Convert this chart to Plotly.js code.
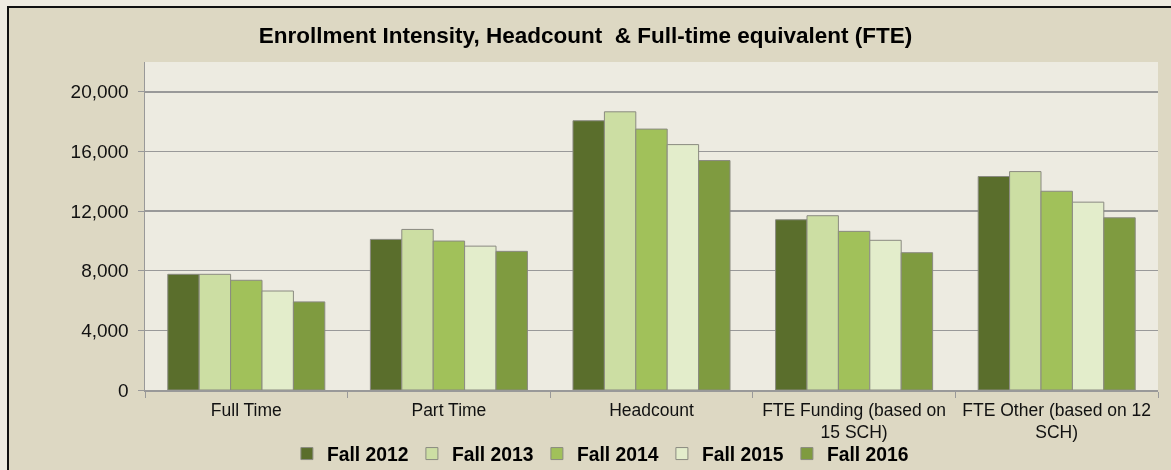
<!DOCTYPE html>
<html>
<head>
<meta charset="utf-8">
<script src="https://cdn.plot.ly/plotly-3.0.1.min.js"></script>
<style>
  html, body { margin: 0; padding: 0; background: #DDD8C3; overflow: hidden; }
  .strip { position: fixed; background: #EEEBE1; }
  .bline { position: fixed; background: #111; }
  #chart { position: absolute; left: 0; top: 0; width: 1171px; height: 470px; }
</style>
</head>
<body>
<div class="strip" style="left:0;top:0;width:3000px;height:6px"></div>
<div class="strip" style="left:0;top:0;width:7px;height:3000px"></div>
<div class="bline" style="left:7px;top:6px;width:3000px;height:2px"></div>
<div class="bline" style="left:7px;top:6px;width:2px;height:3000px"></div>
<div id="chart"></div>
<script>
const categories = ["Full Time", "Part Time", "Headcount", "FTE Funding (based on<br>15 SCH)", "FTE Other (based on 12<br>SCH)"];
const seriesNames = ["Fall 2012", "Fall 2013", "Fall 2014", "Fall 2015", "Fall 2016"];
const fall2012 = [7760, 10100, 18060, 11420, 14320];
const fall2013 = [7760, 10770, 18660, 11690, 14650];
const fall2014 = [7360, 9990, 17500, 10640, 13330];
const fall2015 = [6640, 9650, 16460, 10040, 12600];
const fall2016 = [5910, 9300, 15390, 9210, 11550];
const seriesColors = ["#5A6E2C", "#CCDEA3", "#A1C15A", "#E3EDCB", "#7F9B40"];

const allSeries = [fall2012, fall2013, fall2014, fall2015, fall2016];
const traces = allSeries.map((vals, i) => ({
  type: "bar",
  name: "<b>" + seriesNames[i] + "</b>",
  x: categories,
  y: vals,
  marker: { color: seriesColors[i], line: { color: "#8a8a80", width: 1 } },
  hoverinfo: "skip"
}));

const layout = {
  width: 1171,
  height: 470,
  paper_bgcolor: "rgba(0,0,0,0)",
  plot_bgcolor: "#EDEBE1",
  margin: { l: 145, r: 13, t: 62, b: 80 },
  font: { family: "Liberation Sans, Arial, sans-serif", color: "#111", size: 17 },
  title: {
    text: "<b>Enrollment Intensity, Headcount  &amp; Full-time equivalent (FTE)</b>",
    font: { family: "Liberation Sans, Arial, sans-serif", size: 22.5, color: "#000" },
    x: 0.5, xref: "container", xanchor: "center",
    y: 0.925, yref: "container", yanchor: "middle"
  },
  bargap: 0.225,
  bargroupgap: 0,
  xaxis: {
    type: "category",
    showgrid: false,
    showline: true,
    linecolor: "#999",
    linewidth: 1.5,
    ticks: "outside",
    tickson: "boundaries",
    ticklen: 6,
    tickcolor: "#999",
    ticklabelstandoff: 3,
    tickfont: { size: 17.5, color: "#111" },
    fixedrange: true
  },
  yaxis: {
    range: [0, 22000],
    tickvals: [0, 4000, 8000, 12000, 16000, 20000],
    tickformat: ",d",
    showgrid: true,
    gridcolor: "#999",
    gridwidth: 1.5,
    zeroline: false,
    showline: true,
    linecolor: "#999",
    linewidth: 1.5,
    ticks: "outside",
    ticklen: 6,
    tickcolor: "#999",
    ticklabelstandoff: 5,
    tickfont: { size: 19, color: "#111" },
    fixedrange: true
  },
  legend: {
    orientation: "h",
    xref: "container", yref: "container",
    x: 0.245, xanchor: "left",
    y: 0.034, yanchor: "middle",
    font: { size: 19.3, color: "#000", family: "Liberation Sans, Arial, sans-serif" },
    itemwidth: 30,
    entrywidth: 80,
    bgcolor: "rgba(0,0,0,0)"
  },
  showlegend: true
};

Plotly.newPlot("chart", traces, layout, { displayModeBar: false, staticPlot: true });
</script>
</body>
</html>
